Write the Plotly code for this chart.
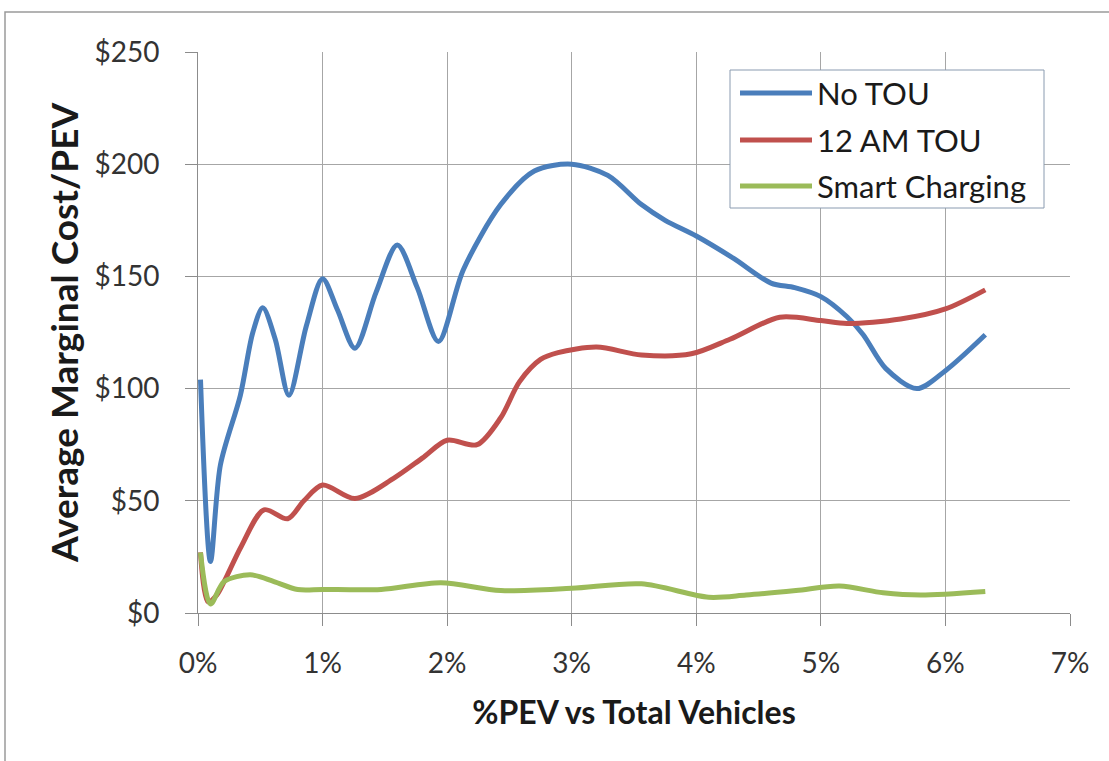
import plotly.graph_objects as go

# %PEV vs total vehicles (x) and average marginal cost per PEV ($)
no_tou_x = [0.02, 0.1, 0.18, 0.34, 0.44, 0.52, 0.62, 0.73, 0.87, 1.0, 1.12, 1.26, 1.43, 1.6, 1.76, 1.93,
            2.13, 2.43, 2.7, 3.0, 3.29, 3.56, 3.75, 4.0, 4.3, 4.6, 4.79, 5.0, 5.21, 5.34, 5.52, 5.77, 6.0, 6.32]
no_tou_y = [104, 23, 66, 97, 125, 136, 122, 97, 128, 149, 135, 118, 143, 164, 145, 121,
            153, 182, 197, 200, 195, 182, 175, 168, 158, 147, 145, 141, 132, 124, 109, 100, 108, 124]

tou12_x = [0.02, 0.08, 0.15, 0.21, 0.35, 0.53, 0.72, 0.85, 1.0, 1.26, 1.57, 1.8, 2.0, 2.24, 2.43, 2.58,
           2.75, 2.89, 3.2, 3.56, 3.96, 4.27, 4.67, 5.0, 5.21, 5.64, 6.0, 6.32]
tou12_y = [27, 5, 8, 14, 30, 46, 42, 50, 57, 51, 60, 69, 77, 75, 87, 103,
           113, 116, 118.5, 115, 115.5, 122, 131.8, 130.3, 129, 131, 135.5, 144]

smart_x = [0.02, 0.1, 0.21, 0.42, 0.61, 0.8, 1.0, 1.47, 1.95, 2.43, 3.0, 3.56, 4.1, 4.4, 4.8, 5.15,
           5.5, 5.8, 6.32]
smart_y = [27, 4, 14, 17, 14, 10.5, 10.5, 10.5, 13.5, 10, 11, 13, 7, 8, 10, 12,
           9, 8, 9.6]

x_ticks = [0, 1, 2, 3, 4, 5, 6, 7]
x_tick_labels = ["0%", "1%", "2%", "3%", "4%", "5%", "6%", "7%"]
y_ticks = [0, 50, 100, 150, 200, 250]
y_tick_labels = ["$0", "$50", "$100", "$150", "$200", "$250"]

series_names = ["No TOU", "12 AM TOU", "Smart Charging"]
series_colors = ["#4a7ebb", "#c0504d", "#9bbb59"]
series_data = [(no_tou_x, no_tou_y), (tou12_x, tou12_y), (smart_x, smart_y)]

fig = go.Figure()
for name, (xs, ys), color in zip(series_names, series_data, series_colors):
    fig.add_trace(go.Scatter(
        x=xs, y=ys, name=name, mode="lines", showlegend=False,
        line=dict(color=color, width=5, shape="spline", smoothing=0.85),
    ))

font_family = "Lato, 'Open Sans', sans-serif"
axis_common = dict(
    showgrid=True, gridcolor="#a6a6a6", gridwidth=1,
    showline=True, linecolor="#8c8c8c", linewidth=1,
    ticks="outside", ticklen=12, tickcolor="#8c8c8c",
    tickfont=dict(family=font_family, size=28, color="#333333"),
    zeroline=False,
)

# plot-area pixel frame (used to place the frame and the legend box)
L, R, T, B = 198, 1070, 52, 613
W, H = R - L, B - T
px = lambda v: (v - L) / W
py = lambda v: (B - v) / H

shapes = [
    dict(type="rect", xref="paper", yref="paper",
         x0=px(5), x1=px(1125), y0=py(790), y1=py(12),
         line=dict(color="#9a9a9a", width=1.5), fillcolor="rgba(0,0,0,0)", layer="below"),
    # legend box
    dict(type="rect", xref="paper", yref="paper",
         x0=px(730), x1=px(1044), y0=py(208), y1=py(70),
         line=dict(color="#8a9bb0", width=1), fillcolor="white", layer="above"),
]
annotations = []
legend_rows = [93, 140, 186]
for name, color, ry in zip(series_names, series_colors, legend_rows):
    shapes.append(dict(type="line", xref="paper", yref="paper",
                       x0=px(740), x1=px(812), y0=py(ry), y1=py(ry),
                       line=dict(color=color, width=5), layer="above"))
    annotations.append(dict(xref="paper", yref="paper", x=px(815), y=py(ry),
                            xanchor="left", yanchor="middle", showarrow=False,
                            text=name, font=dict(family=font_family, size=31, color="#1a1a1a")))

fig.update_layout(
    width=1109, height=761,
    margin=dict(l=L, r=1109 - R, t=T, b=761 - B),
    paper_bgcolor="white", plot_bgcolor="white",
    showlegend=False,
    xaxis=dict(
        range=[0, 7], tickvals=x_ticks, ticktext=x_tick_labels, ticklabelstandoff=13,
        title=dict(text="<b>%PEV vs Total Vehicles</b>", standoff=24,
                   font=dict(family=font_family, size=32, color="#1a1a1a")),
        **axis_common,
    ),
    yaxis=dict(
        range=[0, 250], tickvals=y_ticks, ticktext=y_tick_labels, ticklabelstandoff=20,
        title=dict(text="<b>Average Marginal Cost/PEV</b>", standoff=4,
                   font=dict(family=font_family, size=37, color="#1a1a1a")),
        **axis_common,
    ),
    shapes=shapes,
    annotations=annotations,
)

fig.write_html("out.html", config={"displayModeBar": False},
               post_script="document.body.style.margin='0';")
